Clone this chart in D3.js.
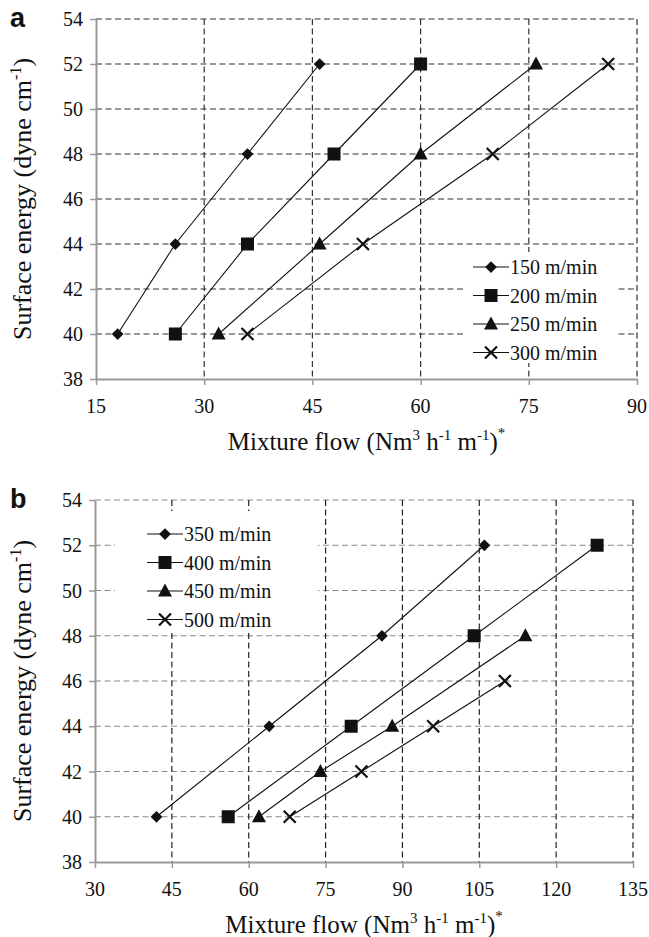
<!DOCTYPE html>
<html>
<head>
<meta charset="utf-8">
<script src="https://cdn.jsdelivr.net/npm/d3@7"></script>
</head>
<body style="margin:0">
<script>
// panel a: line speeds 150-300 m/min
const seriesA = ["150 m/min", "200 m/min", "250 m/min", "300 m/min"]
const flowA = [
    [18, 26, 36, 46],
    [26, 36, 48, 60],
    [32, 46, 60, 76],
    [36, 52, 70, 86]
]
const energyA = [
    [40, 44, 48, 52],
    [40, 44, 48, 52],
    [40, 44, 48, 52],
    [40, 44, 48, 52]
]

// panel b: line speeds 350-500 m/min
const seriesB = ["350 m/min", "400 m/min", "450 m/min", "500 m/min"]
const flowB = [
    [42, 64, 86, 106],
    [56, 80, 104, 128],
    [62, 74, 88, 114],
    [68, 82, 96, 110]
]
const energyB = [
    [40, 44, 48, 52],
    [40, 44, 48, 52],
    [40, 42, 44, 48],
    [40, 42, 44, 46]
]

const xTicksA = [15, 30, 45, 60, 75, 90]
const xTicksB = [30, 45, 60, 75, 90, 105, 120, 135]
const yTicks = [38, 40, 42, 44, 46, 48, 50, 52, 54]

const markers = ["diamond", "square", "triangle", "cross"]
const ink = "#111"

const svg = d3.select("body").append("svg")
    .attr("width", 649)
    .attr("height", 937)
    .style("display", "block")

const marks = svg.append("g")

// text goes straight onto the svg root
function label(x, y, size) {
    return svg.append("text").attr("x", x).attr("y", y)
        .style("font-family", "\"Liberation Serif\"")
        .style("font-size", size + "px")
        .attr("fill", ink)
}

function drawMarker(g, type, x, y) {
    if (type === "diamond") {
        g.append("path").attr("d", d3.symbol(d3.symbolDiamond2, 88)())
            .attr("transform", `translate(${x},${y})`).attr("fill", ink)
    } else if (type === "square") {
        g.append("rect").attr("x", x - 6.5).attr("y", y - 6.5)
            .attr("width", 13).attr("height", 13).attr("fill", ink)
    } else if (type === "triangle") {
        g.append("path").attr("d", `M${x},${y - 7.5}L${x + 7},${y + 5.5}L${x - 7},${y + 5.5}Z`)
            .attr("fill", ink)
    } else {
        g.append("path").attr("d", `M${x - 6},${y - 6}L${x + 6},${y + 6}M${x - 6},${y + 6}L${x + 6},${y - 6}`)
            .attr("stroke", ink).attr("stroke-width", 2.2).attr("fill", "none")
    }
}

function panel(opt) {
    const x = d3.scaleLinear().domain(opt.xDomain).range([opt.left, opt.right])
    const y = d3.scaleLinear().domain([38, 54]).range([opt.bottom, opt.top])
    const g = marks.append("g")

    // grid
    g.append("g").selectAll("line")
        .data(yTicks.slice(1))
        .join("line")
        .attr("x1", opt.left).attr("x2", opt.right)
        .attr("y1", d => y(d)).attr("y2", d => y(d))
        .attr("stroke", opt.hGrid).attr("stroke-width", 1.2)
        .attr("stroke-dasharray", "6,3.5")
    g.append("g").selectAll("line")
        .data(opt.xTicks.slice(1))
        .join("line")
        .attr("x1", d => x(d)).attr("x2", d => x(d))
        .attr("y1", opt.top).attr("y2", opt.bottom)
        .attr("stroke", opt.vGrid).attr("stroke-width", 1.2)
        .attr("stroke-dasharray", "6,3.5")

    // axes, lines and ticks only; labels are drawn below at root level
    const xAxis = g.append("g")
        .attr("transform", `translate(0,${opt.bottom})`)
        .call(d3.axisBottom(x).tickValues(opt.xTicks).tickSize(6).tickSizeOuter(0).tickFormat(""))
    const yAxis = g.append("g")
        .attr("transform", `translate(${opt.left},0)`)
        .call(d3.axisLeft(y).tickValues(yTicks).tickSize(6).tickSizeOuter(0).tickFormat(""))
    for (const ax of [xAxis, yAxis]) {
        ax.selectAll("text").remove()
        ax.select(".domain").attr("stroke", "#999").attr("stroke-width", 2)
        ax.selectAll(".tick line").attr("stroke", "#999").attr("stroke-width", 1.5)
    }
    opt.xTicks.forEach(t => {
        label(x(t), opt.bottom + 34, 20).attr("text-anchor", "middle").text(t)
    })
    yTicks.forEach(t => {
        label(opt.left - 13, y(t) + 7, 20).attr("text-anchor", "end").text(t)
    })

    // legend box hides the grid
    const lg = g.append("g")
    lg.append("rect").attr("x", opt.legend.x0).attr("y", opt.legend.y0)
        .attr("width", opt.legend.w).attr("height", opt.legend.h).attr("fill", "#fff")

    // series
    const line = d3.line().x(d => x(d[0])).y(d => y(d[1]))
    opt.names.forEach((name, i) => {
        const pts = opt.flow[i].map((f, j) => [f, opt.energy[i][j]])
        g.append("path").datum(pts).attr("d", line)
            .attr("fill", "none").attr("stroke", ink).attr("stroke-width", 1.1)
        pts.forEach(p => drawMarker(g, markers[i], x(p[0]), y(p[1])))

        const ly = opt.legend.y + i * opt.legend.step
        lg.append("line").attr("x1", opt.legend.x - 18).attr("x2", opt.legend.x + 18)
            .attr("y1", ly).attr("y2", ly).attr("stroke", ink).attr("stroke-width", 1.1)
        drawMarker(lg, markers[i], opt.legend.x, ly)
        label(opt.legend.x + 19, ly + 7, 20).text(name)
    })

    // axis titles
    const cx = (opt.left + opt.right) / 2
    const xt = label(cx, opt.bottom + 71, 25).attr("text-anchor", "middle")
    xt.append("tspan").text("Mixture flow (Nm")
    xt.append("tspan").attr("dy", -10).style("font-size", "15px").text("3")
    xt.append("tspan").attr("dy", 10).text(" h")
    xt.append("tspan").attr("dy", -10).style("font-size", "15px").text("-1")
    xt.append("tspan").attr("dy", 10).text(" m")
    xt.append("tspan").attr("dy", -10).style("font-size", "15px").text("-1")
    xt.append("tspan").attr("dy", 10).text(")")
    xt.append("tspan").attr("dy", -12).style("font-size", "15px").text("*")

    const cy = (opt.top + opt.bottom) / 2
    const yt = label(0, 0, 26)
        .attr("transform", `translate(31,${cy}) rotate(-90)`)
        .attr("text-anchor", "middle")
    yt.append("tspan").text("Surface energy  (dyne cm")
    yt.append("tspan").attr("dy", -10).style("font-size", "16px").text("-1")
    yt.append("tspan").attr("dy", 10).text(")")

    svg.append("text")
        .attr("x", 10).attr("y", opt.top + 8)
        .style("font-family", "\"Liberation Sans\"")
        .style("font-weight", "bold").style("font-size", "27px").attr("fill", ink)
        .text(opt.label)
}

panel({
    label: "a", names: seriesA, flow: flowA, energy: energyA,
    xDomain: [15, 90], xTicks: xTicksA,
    left: 96, right: 637, top: 19, bottom: 379,
    hGrid: "#333", vGrid: "#333",
    legend: { x0: 463, y0: 252, w: 154, h: 111, x: 491, y: 267, step: 28.5 }
})

panel({
    label: "b", names: seriesB, flow: flowB, energy: energyB,
    xDomain: [30, 135], xTicks: xTicksB,
    left: 95, right: 633, top: 500, bottom: 862,
    hGrid: "#888", vGrid: "#222",
    legend: { x0: 115, y0: 511, w: 203, h: 122, x: 165, y: 534, step: 28.5 }
})
</script>
</body>
</html>
